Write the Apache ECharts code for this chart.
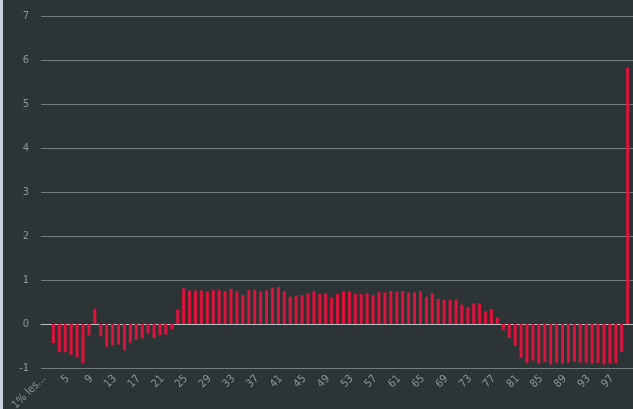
<!DOCTYPE html>
<html>
<head>
<meta charset="utf-8">
<script src="https://cdn.jsdelivr.net/npm/echarts@6/dist/echarts.min.js"></script>
<style>
  html, body { margin: 0; padding: 0; background: #c9d3dd; }
  #myChart { position: absolute; left: 3px; top: 0; width: 630px; height: 409px; }
</style>
</head>
<body>
<div id="myChart"></div>
<script>
// 数据接口
let centiles = ['1% les plus pauvres', '2', '3', '4', '5', '6', '7', '8', '9', '10',
  '11', '12', '13', '14', '15', '16', '17', '18', '19', '20',
  '21', '22', '23', '24', '25', '26', '27', '28', '29', '30',
  '31', '32', '33', '34', '35', '36', '37', '38', '39', '40',
  '41', '42', '43', '44', '45', '46', '47', '48', '49', '50',
  '51', '52', '53', '54', '55', '56', '57', '58', '59', '60',
  '61', '62', '63', '64', '65', '66', '67', '68', '69', '70',
  '71', '72', '73', '74', '75', '76', '77', '78', '79', '80',
  '81', '82', '83', '84', '85', '86', '87', '88', '89', '90',
  '91', '92', '93', '94', '95', '96', '97', '98', '99', '1% les plus riches']
let variation = [0, 0, -0.43, -0.64, -0.64, -0.7, -0.75, -0.89, -0.26, 0.35,
  -0.28, -0.52, -0.49, -0.47, -0.6, -0.43, -0.36, -0.33, -0.22, -0.32,
  -0.25, -0.24, -0.12, 0.32, 0.81, 0.76, 0.76, 0.76, 0.74, 0.77,
  0.77, 0.75, 0.8, 0.74, 0.66, 0.77, 0.77, 0.74, 0.77, 0.83,
  0.84, 0.74, 0.62, 0.65, 0.66, 0.7, 0.74, 0.68, 0.7, 0.6,
  0.68, 0.74, 0.74, 0.68, 0.68, 0.7, 0.66, 0.72, 0.72, 0.75,
  0.74, 0.75, 0.72, 0.72, 0.75, 0.62, 0.7, 0.57, 0.55, 0.55,
  0.55, 0.44, 0.38, 0.47, 0.47, 0.29, 0.34, 0.14, -0.14, -0.32,
  -0.5, -0.77, -0.88, -0.83, -0.9, -0.86, -0.92, -0.88, -0.9, -0.88,
  -0.86, -0.88, -0.88, -0.9, -0.88, -0.92, -0.9, -0.88, -0.63, 5.83]
// second series slot left empty (bars sit left of the band centre)
let autre = []

let font = "'Liberation Sans Narrow', 'DejaVu Sans Condensed', sans-serif"

let myChart = echarts.init(document.getElementById('myChart'))
myChart.setOption({
  backgroundColor: '#2d3436',
  animation: false,
  grid: { left: 38, right: 0, top: 16, bottom: 41, outerBoundsMode: 'none', containLabel: false },
  xAxis: {
    type: 'category',
    data: centiles,
    axisLine: { lineStyle: { color: '#b9c1c5', width: 1 } },
    axisTick: { interval: 3, length: 5, lineStyle: { color: '#b9c1c5' } },
    axisLabel: {
      interval: 3,
      rotate: 45,
      margin: 9,
      color: '#8f9699',
      fontSize: 11,
      fontFamily: font,
      width: 44,
      overflow: 'truncate',
      ellipsis: '...'
    }
  },
  yAxis: {
    type: 'value',
    min: -1,
    max: 7,
    interval: 1,
    axisLine: { show: false },
    axisTick: { show: false },
    axisLabel: { color: '#8f9699', fontSize: 11, fontFamily: font, margin: 12 },
    splitLine: { lineStyle: { color: '#747c7f', width: 1 } }
  },
  series: [
    {
      name: 'variation',
      type: 'bar',
      data: variation,
      barWidth: 3,
      barGap: '60%',
      itemStyle: { color: '#dc143c' }
    },
    {
      name: 'autre',
      type: 'bar',
      data: autre,
      barWidth: 3
    }
  ]
})
</script>
</body>
</html>
